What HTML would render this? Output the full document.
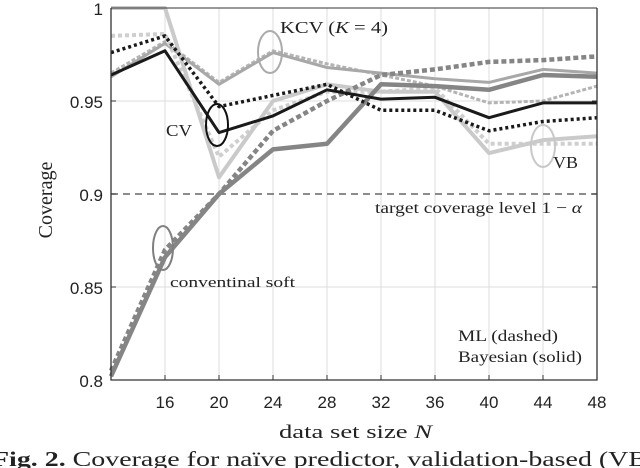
<!DOCTYPE html>
<html><head><meta charset="utf-8"><style>
html,body{margin:0;padding:0;background:#fff;}
svg{display:block;}
.serif{font-family:"Liberation Serif","DejaVu Serif",serif;fill:#222;}
.sans{font-family:"Liberation Sans",sans-serif;fill:#222;}
</style></head><body>
<svg id="chart" width="640" height="468" viewBox="0 0 640 468" xmlns="http://www.w3.org/2000/svg">
<g id="grid"></g>
<g id="series"></g>
<g id="axes"></g>
<g id="annot">
<ellipse cx="270" cy="52" rx="12" ry="21" fill="none" stroke="#aaa" stroke-width="2"/>
<ellipse cx="217" cy="125" rx="11" ry="21" fill="none" stroke="#111" stroke-width="2"/>
<ellipse cx="543" cy="146" rx="12" ry="21" fill="none" stroke="#c8c8c8" stroke-width="2"/>
<ellipse cx="163" cy="248" rx="10" ry="22" fill="none" stroke="#808080" stroke-width="2"/>
<text class="serif" x="280" y="33" font-size="17" textLength="108" lengthAdjust="spacingAndGlyphs">KCV (<tspan font-style="italic">K</tspan> = 4)</text>
<text class="serif" x="166" y="136" font-size="17" textLength="26" lengthAdjust="spacingAndGlyphs">CV</text>
<text class="serif" x="553" y="168" font-size="17" textLength="25" lengthAdjust="spacingAndGlyphs">VB</text>
<text class="serif" x="170" y="287" font-size="15" textLength="125" lengthAdjust="spacingAndGlyphs">conventinal soft</text>
<text class="serif" x="375" y="213" font-size="16" textLength="207" lengthAdjust="spacingAndGlyphs">target coverage level 1 − <tspan font-style="italic">α</tspan></text>
<text class="serif" x="458" y="341" font-size="16" textLength="100" lengthAdjust="spacingAndGlyphs">ML (dashed)</text>
<text class="serif" x="458" y="362" font-size="16" textLength="124" lengthAdjust="spacingAndGlyphs">Bayesian (solid)</text>
<text class="serif" x="279" y="438" font-size="19" textLength="153" lengthAdjust="spacingAndGlyphs">data set size <tspan font-style="italic">N</tspan></text>
<text class="serif" transform="translate(52,200) rotate(-90)" text-anchor="middle" font-size="20">Coverage</text>
<text class="serif" x="-8" y="466" font-size="21" textLength="655" lengthAdjust="spacingAndGlyphs"><tspan font-weight="bold">Fig. 2.</tspan>  Coverage for naïve predictor, validation-based (VB</text>
</g>
</svg>
<script>
const xs = [12,16,20,24,28,32,36,40,44,48];
const xTicks = [16,20,24,28,32,36,40,44,48];
const yTicks = [0.8,0.85,0.9,0.95,1];
const yTickLabels = ["0.8","0.85","0.9","0.95","1"];
const vbBayes = [1.0,1.0,0.909,0.95,0.959,0.955,0.955,0.922,0.929,0.931];
const vbML = [0.985,0.986,0.92,0.945,0.955,0.955,0.957,0.927,0.927,0.927];
const kcvBayes = [0.963,0.981,0.959,0.976,0.968,0.965,0.962,0.96,0.967,0.965];
const kcvML = [0.965,0.982,0.96,0.977,0.97,0.964,0.958,0.949,0.95,0.958];
const cvBayes = [0.964,0.977,0.933,0.942,0.956,0.951,0.952,0.941,0.949,0.949];
const cvML = [0.976,0.985,0.947,0.953,0.959,0.945,0.945,0.934,0.939,0.941];
const convBayes = [0.802,0.866,0.9,0.924,0.927,0.959,0.958,0.956,0.964,0.963];
const convML = [0.805,0.87,0.9,0.934,0.95,0.964,0.967,0.971,0.972,0.974];
const targetLevel = 0.9;

const X0=111,X1=597,Y0=380,Y1=8;
const sx=v=>X0+(v-12)/(48-12)*(X1-X0);
const sy=v=>Y0-(v-0.8)/(1-0.8)*(Y0-Y1);
const NS="http://www.w3.org/2000/svg";
function mk(tag,attrs,parent){const e=document.createElementNS(NS,tag);for(const k in attrs)e.setAttribute(k,attrs[k]);parent.appendChild(e);return e;}
const gridG=document.getElementById('grid'),serG=document.getElementById('series'),axG=document.getElementById('axes');
xTicks.forEach(t=>{const l=mk('line',{x1:sx(t),x2:sx(t),y1:Y1,y2:Y0,stroke:'#ddd','stroke-width':1},gridG);

});
yTicks.forEach(t=>{if(t===0.9)return;const l=mk('line',{x1:X0,x2:X1,y1:sy(t),y2:sy(t),stroke:'#ddd','stroke-width':1},gridG);

});
const tl=mk('line',{x1:X0,x2:X1,y1:sy(targetLevel),y2:sy(targetLevel),stroke:'#666','stroke-width':1.5,'stroke-dasharray':'7,5'},gridG);


function series(vals,color,w,dash,name){
  const d=vals.map((v,i)=>(i?'L':'M')+sx(xs[i]).toFixed(1)+','+sy(v).toFixed(1)).join(' ');
  const a={d:d,fill:'none',stroke:color,'stroke-width':w,'stroke-linejoin':'round'};
  if(dash)a['stroke-dasharray']=dash;
  const p=mk('path',a,serG);
  
  
}
series(kcvML,'#b4b4b4',3,'4,2','kcv-ml-line');
series(kcvBayes,'#a8a8a8',3,null,'kcv-bayesian-line');
series(vbML,'#cfcfcf',4,'4,3','vb-ml-line');
series(vbBayes,'#cacaca',4,null,'vb-bayesian-line');
series(convBayes,'#858585',4.5,null,'conventional-bayesian-line');
series(convML,'#858585',4.5,'5,3','conventional-ml-line');
series(cvML,'#1a1a1a',3.5,'3,3','cv-ml-line');
series(cvBayes,'#1a1a1a',3,null,'cv-bayesian-line');
const frame=mk('path',{d:`M${X0},${Y1} L${X0},${Y0} L${X1},${Y0} L${X1},${Y1}`,fill:'none',stroke:'#333','stroke-width':1.3},axG);


const topBorder=mk('line',{x1:X0,x2:X1,y1:Y1,y2:Y1,stroke:'#333','stroke-width':1},axG);


xTicks.forEach(t=>{
  const k=mk('line',{x1:sx(t),x2:sx(t),y1:Y0,y2:Y0-5,stroke:'#333'},axG);
  
  
  const tx=mk('text',{x:sx(t),y:Y0+28,'text-anchor':'middle','font-size':17,class:'sans'},axG);
  tx.textContent=t;
  
  
});
yTicks.forEach((t,i)=>{
  const k=mk('line',{x1:X0,x2:X0+5,y1:sy(t),y2:sy(t),stroke:'#333'},axG);
  
  
  const k2=mk('line',{x1:X1,x2:X1-5,y1:sy(t),y2:sy(t),stroke:'#333'},axG);
  
  
  const tx=mk('text',{x:X0-8,y:sy(t)+7,'text-anchor':'end','font-size':17,class:'sans'},axG);
  tx.textContent=yTickLabels[i];
  
  
});
</script>
</body></html>
